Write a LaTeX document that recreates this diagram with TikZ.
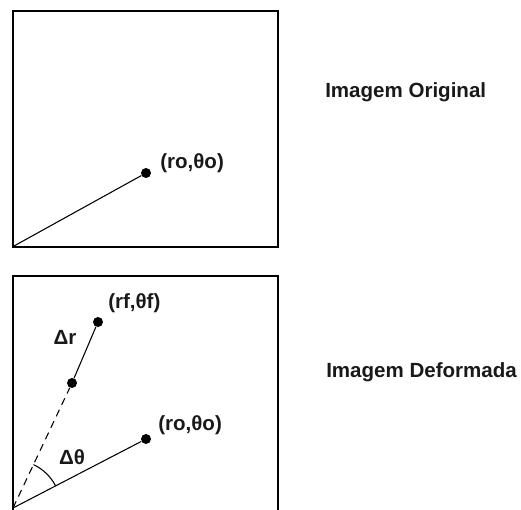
\documentclass[tikz,border=0pt]{standalone}
\usepackage{fontspec}
\setmainfont{Liberation Sans}
\begin{document}
\begin{tikzpicture}[x=0.75pt,y=0.75pt,
  dot/.style={circle,fill=black,inner sep=0pt,minimum size=7.5pt},
  lbl/.style={font=\bfseries\fontsize{15.4}{18}\selectfont,text=black!90,inner sep=0pt},
  frame/.style={draw=black,line width=0.9pt},
  conn/.style={draw=black,line width=0.8pt},
  dashconn/.style={conn,dash pattern=on 5.5pt off 4pt}]
\useasboundingbox (0,0) rectangle (521,510);
\clip (0,0) rectangle (521,510);
% frames
\draw[frame] (13,263) rectangle (278,499);
\draw[frame] (13,-10) rectangle (278,234);
% top picture
\coordinate (o1) at (14,264);
\node[dot] (p1) at (146,337) {};
\draw[conn] (o1) -- (p1);
\node[lbl,anchor=west] (l1) at (160,347) {(ro,θo)};
% bottom picture
\coordinate (o2) at (13,2);
\node[dot] (p2) at (146,71) {};
\node[dot] (m) at (72,127) {};
\node[dot] (rf) at (98,188) {};
\draw[conn] (o2) -- (p2);
\draw[dashconn] (o2) -- (m);
\draw[conn] (m) -- (rf);
\draw[conn] ([shift={(27.4:36pt)}]o2) arc[start angle=27.4,end angle=64.7,radius=36pt];
\node[lbl,anchor=west] (l2) at (158,85) {(ro,θo)};
\node[lbl,anchor=west] (l3) at (108,207) {(rf,θf)};
\node[lbl] (dr) at (65,173) {Δr};
\node[lbl] (dt) at (72,53) {Δθ};
% titles
\node[lbl,anchor=west] (t1) at (325,418) {Imagem Original};
\node[lbl,anchor=west] (t2) at (326,138) {Imagem Deformada};
\end{tikzpicture}
\end{document}
